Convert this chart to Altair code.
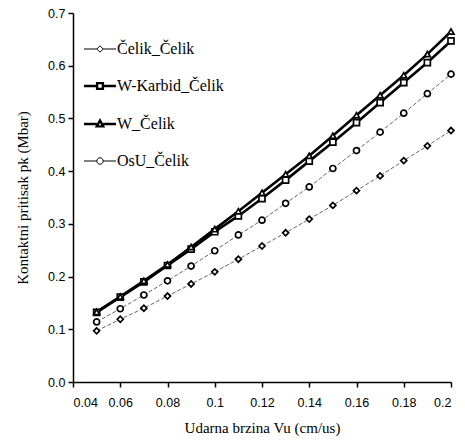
import altair as alt
import pandas as pd

x_vals = [0.05, 0.06, 0.07, 0.08, 0.09, 0.10, 0.11, 0.12, 0.13, 0.14, 0.15, 0.16, 0.17, 0.18, 0.19, 0.20]
series_names = ["Čelik_Čelik", "W-Karbid_Čelik", "W_Čelik", "OsU_Čelik"]
celik_celik = [0.097, 0.119, 0.140, 0.163, 0.186, 0.209, 0.233, 0.258, 0.283, 0.309, 0.335, 0.363, 0.391, 0.420, 0.448, 0.477]
wkarbid_celik = [0.132, 0.161, 0.190, 0.221, 0.252, 0.285, 0.315, 0.348, 0.383, 0.419, 0.455, 0.492, 0.530, 0.568, 0.606, 0.647]
w_celik = [0.133, 0.162, 0.192, 0.223, 0.256, 0.290, 0.324, 0.359, 0.394, 0.429, 0.467, 0.506, 0.544, 0.582, 0.622, 0.665]
osu_celik = [0.114, 0.139, 0.165, 0.192, 0.220, 0.249, 0.279, 0.307, 0.339, 0.370, 0.405, 0.439, 0.474, 0.510, 0.547, 0.584]
x_ticks = [0.04, 0.06, 0.08, 0.1, 0.12, 0.14, 0.16, 0.18, 0.2]
y_ticks = [0.0, 0.1, 0.2, 0.3, 0.4, 0.5, 0.6, 0.7]
thick_series = ["W-Karbid_Čelik", "W_Čelik"]
thin_series = ["Čelik_Čelik", "OsU_Čelik"]

rows = []
for name, vals in zip(series_names, [celik_celik, wkarbid_celik, w_celik, osu_celik]):
    for xv, yv in zip(x_vals, vals):
        rows.append({"x": xv, "y": yv, "series": name})
df = pd.DataFrame(rows)

xs = alt.X("x:Q", scale=alt.Scale(domain=[0.04, 0.2], nice=False, zero=False),
           axis=alt.Axis(values=x_ticks, format="~g", title="Udarna brzina Vu (cm/us)", grid=False,
                         titlePadding=12, labelPadding=9))
ys = alt.Y("y:Q", scale=alt.Scale(domain=[0, 0.7], nice=False),
           axis=alt.Axis(values=y_ticks, format=".1f", title="Kontaktni pritisak pk (Mbar)", grid=False,
                         titlePadding=17, labelPadding=3))

thin_lines = alt.Chart(df).transform_filter(
    alt.FieldOneOfPredicate(field="series", oneOf=thin_series)
).mark_line(color="#555555", strokeWidth=0.9, strokeDash=[4, 2]).encode(x=xs, y=ys, detail="series:N")

thick_lines = alt.Chart(df).transform_filter(
    alt.FieldOneOfPredicate(field="series", oneOf=thick_series)
).mark_line(color="black", strokeWidth=2.6).encode(x=xs, y=ys, detail="series:N")

points = alt.Chart(df).mark_point(filled=False, fill="white", stroke="black", strokeWidth=1.7, size=36, opacity=1).encode(
    x=xs, y=ys,
    shape=alt.Shape("series:N", scale=alt.Scale(domain=series_names, range=["diamond", "square", "triangle-up", "circle"]), legend=None),
)

# legend symbols: a short line with the series marker in the middle
legend_paths = [
    "M-1,0H-0.2M0.2,0H1M0,-0.2L0.2,0L0,0.2L-0.2,0Z",
    "M-1,0H-0.18M0.18,0H1M-0.18,-0.18H0.18V0.18H-0.18Z",
    "M-1,0H-0.2M0.2,0H1M0,-0.22L0.2,0.15H-0.2Z",
    "M-1,0H-0.2M0.2,0H1M0.2,0A0.2,0.2 0 1,1 -0.2,0A0.2,0.2 0 1,1 0.2,0Z",
]
width_expr = "indexof(['" + "','".join(thick_series) + "'], datum.value) >= 0 ? 2.4 : 1"

leg_def = alt.Legend(
    title=None, orient="none", legendX=19, legendY=28, padding=0,
    labelFont="Liberation Serif", labelFontSize=16, labelColor="black", labelLimit=300,
    symbolSize=1024, rowPadding=21, labelOffset=9, symbolOpacity=1,
    symbolStrokeColor="black", symbolFillColor="white",
    symbolStrokeWidth=alt.ExprRef(expr=width_expr),
)

leg = alt.Chart(df).transform_calculate(Legend="datum.series").mark_point(
    stroke="black", opacity=1, size=0
).encode(
    x=xs, y=ys,
    shape=alt.Shape("Legend:N", scale=alt.Scale(domain=series_names, range=legend_paths), legend=leg_def),
)

chart = alt.layer(thin_lines, thick_lines, points, leg).resolve_scale(shape="independent").properties(
    width=378, height=369,
    autosize=alt.AutoSizeParams(type="none"),
    padding={"left": 65, "top": 5, "right": 6, "bottom": 56},
).configure_view(stroke=None).configure_axis(
    labelFont="Liberation Sans", labelFontSize=12.5, labelColor="black",
    titleFont="Liberation Serif", titleFontSize=15, titleFontWeight="normal", titleColor="black",
    domainColor="black", domainWidth=1.5, tickColor="black", tickWidth=1.5, tickSize=5,
)

chart.save("out.html", embed_options={"renderer": "svg", "actions": False})
